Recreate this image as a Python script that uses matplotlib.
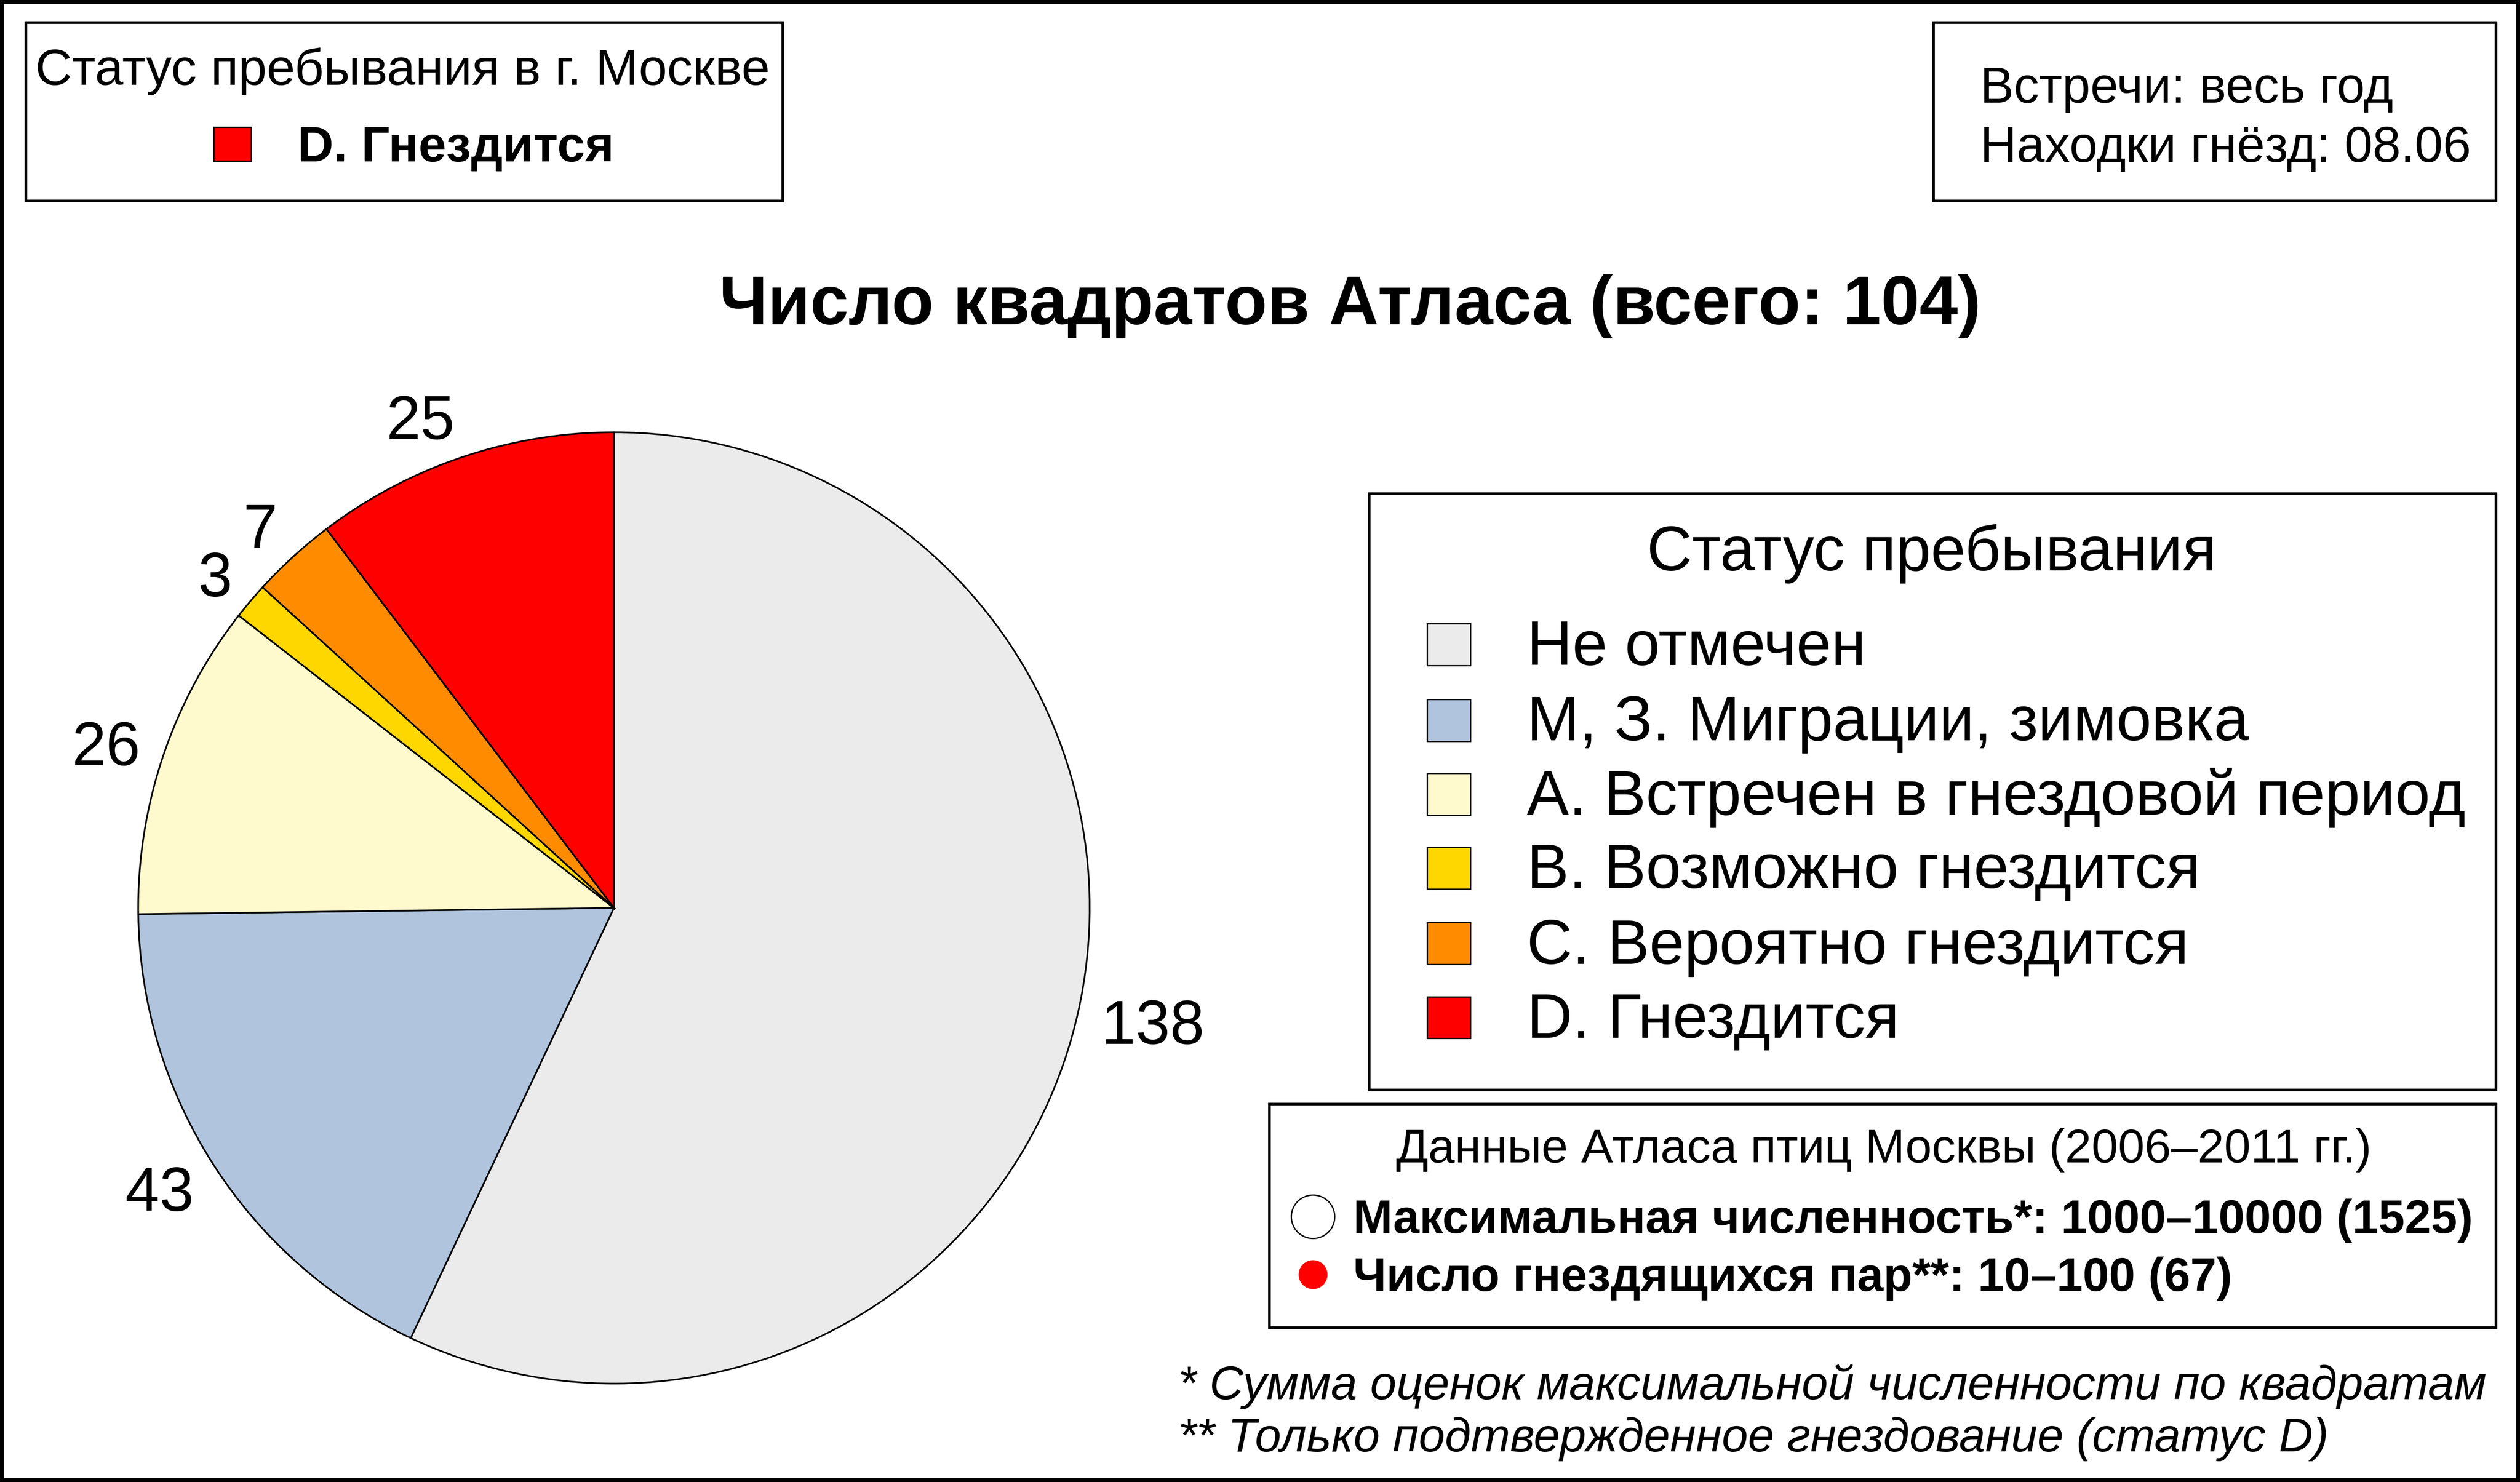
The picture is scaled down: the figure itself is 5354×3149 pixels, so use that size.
import matplotlib
matplotlib.use('Agg')
import numpy as np
import matplotlib.pyplot as plt
from matplotlib.patches import Rectangle, Ellipse

plt.rcParams['font.family'] = ['Liberation Sans', 'DejaVu Sans']

categories = ['Не отмечен', 'М, З. Миграции, зимовка', 'A. Встречен в гнездовой период',
              'B. Возможно гнездится', 'C. Вероятно гнездится', 'D. Гнездится']
counts = [138, 43, 26, 3, 7, 25]
colors = ['#EBEBEB', '#B0C4DE', '#FFFACD', '#FFD700', '#FF8C00', '#FF0000']

status_title = 'Статус пребывания в г. Москве'
status_value = 'D. Гнездится'
meet_lines = ['Встречи: весь год', 'Находки гнёзд: 08.06']
main_title = 'Число квадратов Атласа (всего: 104)'
legend_title = 'Статус пребывания'
atlas_title = 'Данные Атласа птиц Москвы (2006–2011 гг.)'
atlas_lines = ['Максимальная численность*: 1000–10000 (1525)',
               'Число гнездящихся пар**: 10–100 (67)']
footnotes = ['* Сумма оценок максимальной численности по квадратам',
             '** Только подтвержденное гнездование (статус D)']

W, H = 5354, 3149
RW, RH = 1568, 922   # layout measured on a 1568x922 copy
SC = W / RW
DY = 2.5             # text bbox centre sits a bit above the visual centre

fig = plt.figure(figsize=(W / 100, H / 100), dpi=100)
fig.patch.set_facecolor('white')
renderer = fig.canvas.get_renderer()


def fx(x):
    return x / RW


def fy(y):
    return 1 - y / RH


def put(x, y, s, width=None, size=None, ha='left', **kw):
    t = fig.text(fx(x), fy(y + DY), s, ha=ha, va='center', fontsize=size or 50, **kw)
    if width is not None:
        w = t.get_window_extent(renderer).width
        t.set_fontsize(50 * width * SC / w)
    return t


def box(x0, y0, x1, y1, lw=4):
    fig.add_artist(Rectangle((fx(x0), fy(y1)), fx(x1) - fx(x0), fy(y0) - fy(y1),
                             transform=fig.transFigure, fill=False,
                             edgecolor='black', linewidth=lw))


def square(x, y, size_w, size_h, color):
    fig.add_artist(Rectangle((fx(x), fy(y + size_h)), size_w / RW, size_h / RH,
                             transform=fig.transFigure, facecolor=color,
                             edgecolor='black', linewidth=2))


# outer frame
fig.add_artist(Rectangle((0, 0), 1, 1, transform=fig.transFigure, fill=False,
                         edgecolor='black', linewidth=13))

# top-left box
box(16, 14, 487, 125)
put(22, 42, status_title, 458)
square(133, 79, 23, 21, colors[5])
put(185, 90, status_value, 197, fontweight='bold')

# top-right box
box(1203, 14, 1553, 125)
t1 = put(1232, 90, meet_lines[1], 306)
put(1232, 53, meet_lines[0], size=t1.get_fontsize())

# main title
put(840, 188, main_title, 786, ha='center', fontweight='bold')

# pie
R = 296 * SC
cx, cy = 382 * SC, 565 * SC
lim = 1.2
side = 2 * lim * R
ax = fig.add_axes([(cx - side / 2) / W, (H - cy - side / 2) / H, side / W, side / H])
wedges, texts = ax.pie(counts, colors=colors, startangle=90, counterclock=False,
                       labels=[str(c) for c in counts], labeldistance=1.1,
                       wedgeprops={'edgecolor': 'black', 'linewidth': 2.5})
# labels placed like R's pie(): left/right aligned just outside the rim
for wdg, t in zip(wedges, texts):
    mid = np.deg2rad((wdg.theta1 + wdg.theta2) / 2)
    t.set_position((1.05 * np.cos(mid), 1.09 * np.sin(mid)))
    t.set_ha('left' if np.cos(mid) > 0 else 'right')
    t.set_va('center_baseline')
    t.set_fontsize(50)
w138 = texts[0].get_window_extent(renderer).width
for t in texts:
    t.set_fontsize(50 * 64 * SC / w138)
ax.set_xlim(-lim, lim)
ax.set_ylim(-lim, lim)
ax.set_aspect('equal')
ax.axis('off')

# status legend
box(852, 307, 1553, 678)
put(1202, 342, legend_title, 355, ha='center')
ys = [401, 448, 494, 540, 587, 633]
ref = put(950, ys[2], categories[2], 585)
for i, (name, col) in enumerate(zip(categories, colors)):
    square(888, ys[i] - 13, 27, 26, col)
    if i != 2:
        put(950, ys[i], name, size=ref.get_fontsize())

# atlas data box
box(790, 687, 1553, 826)
put(1172, 713, atlas_title, 608, ha='center')
b1 = put(842, 757, atlas_lines[0], 698, fontweight='bold')
put(842, 793, atlas_lines[1], size=b1.get_fontsize(), fontweight='bold')
fig.add_artist(Ellipse((fx(817), fy(757)), 27 / RW, 27 / RH, transform=fig.transFigure,
                       facecolor='white', edgecolor='black', linewidth=2))
fig.add_artist(Ellipse((fx(817), fy(793)), 18 / RW, 18 / RH, transform=fig.transFigure,
                       facecolor='#FF0000', edgecolor='none'))

# footnotes
f1 = put(733, 860, footnotes[0], 815, fontstyle='italic')
put(733, 893, footnotes[1], size=f1.get_fontsize(), fontstyle='italic')

fig.savefig('out.png', dpi=100, facecolor='white')
